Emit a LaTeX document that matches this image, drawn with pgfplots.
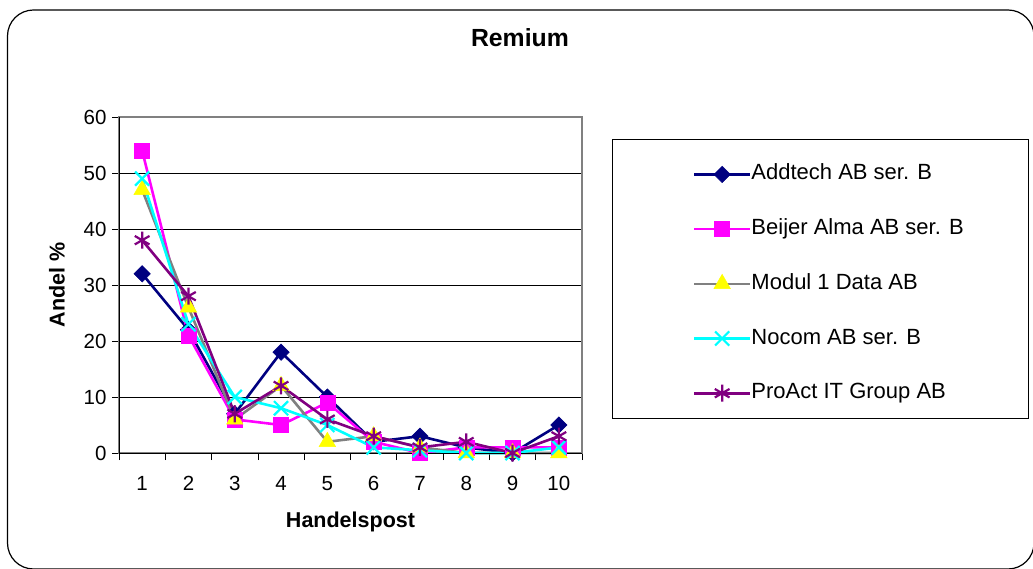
\documentclass[border=0pt]{standalone}
\usepackage{fontspec}
\setmainfont{Liberation Sans}
\usepackage{pgfplots}
\pgfplotsset{compat=1.18}
\definecolor{cNavy}{RGB}{0,0,128}
\definecolor{cMag}{RGB}{255,0,255}
\definecolor{cGray}{RGB}{128,128,128}
\definecolor{cYel}{RGB}{255,255,0}
\definecolor{cCyan}{RGB}{0,255,255}
\definecolor{cPurp}{RGB}{128,0,128}
\begin{document}
\begin{tikzpicture}
\useasboundingbox (0,0) rectangle (1033pt,568pt);
\draw[line width=1.2pt, rounded corners=26pt] (7.5pt,558pt) rectangle (1034pt,-1pt);
\draw[line width=1pt] (612pt,428pt) rectangle (1028pt,150pt);
\begin{axis}[
  at={(119pt,115pt)}, anchor=south west,
  scale only axis, width=463pt, height=336pt,
  xmin=0.5, xmax=10.5, ymin=0, ymax=60,
  xtick={0.5,1.5,...,10.5}, xticklabels={},
  extra x ticks={1,2,3,4,5,6,7,8,9,10},
  extra x tick labels={1,2,3,4,5,6,7,8,9,10},
  extra x tick style={major tick length=0pt},
  ytick={0,10,...,60},
  xtick pos=bottom, ytick pos=left,
  tick align=outside, major tick length=7pt,
  tick style={black, line width=0.8pt},
  ymajorgrids=true,
  grid style={black, line width=0.8pt},
  axis line style={draw=cGray, line width=2pt},
  /pgf/number format/assume math mode=true,
  tick label style={font=\fontsize{20.5}{24}\selectfont},
  xticklabel style={yshift=-20pt},
  yticklabel style={xshift=-2pt},
  xlabel={Handelspost}, ylabel={Andel \%},
  xlabel style={font=\bfseries\fontsize{21.5}{25}\selectfont, at={(axis description cs:0.5,-0.205)}, anchor=center},
  ylabel style={font=\bfseries\fontsize{21.5}{25}\selectfont, at={(axis description cs:-0.134,0.5)}, anchor=center},
  title={Remium},
  title style={font=\bfseries\fontsize{24.8}{28}\selectfont, at={(axis description cs:0.866,1.217)}, anchor=center},
  clip=false,
  legend image code/.code={\draw[mark repeat=2,mark phase=2,#1] plot coordinates {(0pt,0pt) (28pt,0pt) (56pt,0pt)};},
  legend style={draw=none, fill=none, at={(axis description cs:1.239,0.858)}, anchor=north west,
    font=\fontsize{22}{26}\selectfont, inner sep=0pt, row sep=35.7pt,
    nodes={inner sep=0pt, text height=15pt, text depth=4pt},
    /tikz/every even column/.append style={column sep=4pt}},
  legend cell align=left,
  every axis plot/.append style={line width=2.6pt},
]
\addplot[cNavy, mark=square*, mark size=5.8pt, mark options={rotate=45, line width=0.5pt}] coordinates {(1,32) (2,22) (3,7) (4,18) (5,10) (6,2) (7,3) (8,1) (9,0) (10,5)};
\addlegendentry{Addtech AB ser. B}
\addplot[cMag, mark=square*, mark size=7.5pt, mark options={line width=0.5pt}] coordinates {(1,54) (2,21) (3,6) (4,5) (5,9) (6,2) (7,0) (8,1) (9,1) (10,1)};
\addlegendentry{Beijer Alma AB ser. B}
\addplot[cGray, mark=triangle*, mark size=9.5pt, mark options={draw=cYel, fill=cYel, line width=0.5pt}] coordinates {(1,47) (2,26) (3,6) (4,12) (5,2) (6,3) (7,1) (8,0) (9,0) (10,0)};
\addlegendentry{Modul 1 Data AB}
\addplot[cCyan, mark=x, mark size=10pt, mark options={line width=2.2pt}] coordinates {(1,49) (2,23) (3,10) (4,8) (5,5) (6,1) (7,0.5) (8,0) (9,0) (10,1)};
\addlegendentry{Nocom AB ser. B}
\addplot[cPurp, mark=asterisk, mark size=8.5pt, mark options={line width=2.2pt}] coordinates {(1,38) (2,28) (3,7) (4,12) (5,6) (6,3) (7,1) (8,2) (9,0) (10,3)};
\addlegendentry{ProAct IT Group AB}
\draw[black, line width=1pt] (rel axis cs:0,0) -- (rel axis cs:0,1);
\draw[black, line width=1pt] (rel axis cs:0,0) -- (rel axis cs:1,0);
\end{axis}
\end{tikzpicture}
\end{document}
